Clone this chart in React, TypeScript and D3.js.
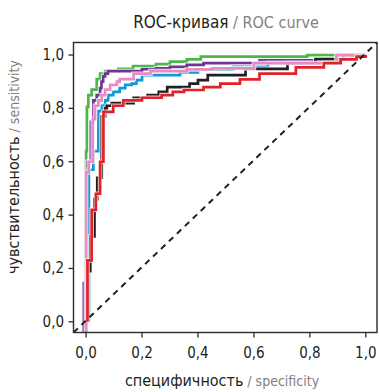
import React from "react";
import * as d3 from "d3";

const titleRu = "ROC-кривая";
const titleEn = "/ ROC curve";
const xTitleRu = "специфичность";
const xTitleEn = "/ specificity";
const yTitleRu = "чувствительность";
const yTitleEn = "/ sensitivity";
const ticks = [0, 0.2, 0.4, 0.6, 0.8, 1.0];

const seriesNames = ["green", "purple", "blue", "black", "pink", "red"];
const seriesColors = ["#4cb849", "#6e3796", "#0e9ad6", "#231f20", "#e58cc2", "#e3212b"];

const greenFpr = [0, 0, 0.003, 0.008, 0.02, 0.038, 0.05, 0.068, 0.115, 0.168, 0.25, 0.3, 0.36, 0.41, 0.79, 1.0];
const greenTpr = [-0.04, 0.64, 0.806, 0.85, 0.87, 0.91, 0.93, 0.94, 0.948, 0.959, 0.966, 0.975, 0.984, 0.994, 1.0, 1.0];

const purpleFpr = [-0.008, -0.008, 0.005, 0.017, 0.026, 0.038, 0.05, 0.055, 0.061, 0.068, 0.078, 0.2, 0.25, 0.3, 0.36, 0.42, 0.62, 0.9, 1.0];
const purpleTpr = [-0.04, 0.145, 0.6, 0.75, 0.83, 0.85, 0.876, 0.9, 0.92, 0.93, 0.94, 0.947, 0.95, 0.956, 0.963, 0.97, 0.98, 1.0, 1.0];

const blueFpr = [0.01, 0.01, 0.026, 0.044, 0.056, 0.068, 0.079, 0.097, 0.12, 0.14, 0.163, 0.18, 0.2, 0.336, 0.4, 0.525, 0.65, 0.85, 0.95, 1.0];
const blueTpr = [0.0, 0.57, 0.64, 0.79, 0.81, 0.83, 0.85, 0.862, 0.876, 0.888, 0.893, 0.906, 0.925, 0.935, 0.945, 0.956, 0.97, 0.985, 1.0, 1.0];

const blackFpr = [0.0, 0.0, 0.015, 0.03, 0.04, 0.056, 0.068, 0.074, 0.092, 0.17, 0.22, 0.26, 0.29, 0.37, 0.4, 0.435, 0.57, 0.72, 0.82, 0.92, 1.0];
const blackTpr = [-0.04, 0.19, 0.32, 0.46, 0.54, 0.77, 0.8, 0.81, 0.82, 0.84, 0.85, 0.862, 0.88, 0.893, 0.906, 0.925, 0.948, 0.97, 0.985, 1.0, 1.0];

const pinkFpr = [0, 0, 0.01, 0.024, 0.032, 0.044, 0.056, 0.068, 0.086, 0.11, 0.12, 0.17, 0.23, 0.36, 0.45, 0.6, 0.895, 1.0];
const pinkTpr = [-0.04, 0.56, 0.6, 0.76, 0.81, 0.83, 0.85, 0.87, 0.888, 0.9, 0.91, 0.93, 0.94, 0.946, 0.95, 0.97, 1.0, 1.0];

const redFpr = [0.005, 0.005, 0.02, 0.035, 0.05, 0.062, 0.097, 0.133, 0.2, 0.27, 0.31, 0.35, 0.42, 0.48, 0.55, 0.62, 0.75, 0.85, 0.91, 0.967, 1.0];
const redTpr = [0.0, 0.23, 0.42, 0.48, 0.6, 0.787, 0.81, 0.83, 0.84, 0.85, 0.862, 0.869, 0.88, 0.893, 0.909, 0.93, 0.954, 0.97, 0.984, 0.994, 1.0];

const seriesFpr = [greenFpr, purpleFpr, blueFpr, blackFpr, pinkFpr, redFpr];
const seriesTpr = [greenTpr, purpleTpr, blueTpr, blackTpr, pinkTpr, redTpr];

const W = 379;
const H = 392;
const FONT = "'DejaVu Sans Condensed', 'DejaVu Sans', sans-serif";

export default function App() {
  const left = 73.5, right = 377, top = 42.5, bottom = 332.5;
  const x = d3.scaleLinear().domain([-0.045, 1.04]).range([left, right]);
  const y = d3.scaleLinear().domain([-0.04, 1.047]).range([bottom, top]);
  const line = d3
    .line<[number, number]>()
    .x((d) => x(d[0]))
    .y((d) => y(d[1]))
    .curve(d3.curveStepAfter);

  const paths = seriesNames.map((name, i) => {
    const pts: [number, number][] = seriesFpr[i].map((f, j) => [f, seriesTpr[i][j]]);
    return { name, color: seriesColors[i], d: line(pts) || "" };
  });

  const [dx0, dx1] = x.domain();
  const [dy0, dy1] = y.domain();

  return (
    <svg width={W} height={H} style={{ position: "absolute", left: 0, top: 0, background: "#fff" }} fontFamily={FONT}>
      <rect x={0} y={0} width={W} height={H} fill="#fff" />
      <text x={226} y={28} textAnchor="middle" fontSize={17}>
        <tspan fill="#231f20">{titleRu}</tspan>
        <tspan fill="#808080" fontSize={16}>{" " + titleEn}</tspan>
      </text>

      {paths.map((p) => (
        <g key={p.name}>
          <path d={p.d} fill="none" stroke="#fff" strokeWidth={4.6} opacity={0.75} />
          <path d={p.d} fill="none" stroke={p.color} strokeWidth={2.7} />
        </g>
      ))}

      <line
        x1={x(dx0)}
        y1={y(dy0)}
        x2={x(dx1)}
        y2={y(dy1)}
        stroke="#231f20"
        strokeWidth={2}
        strokeDasharray="6 5"
      />

      <rect x={left} y={top} width={right - left} height={bottom - top} fill="none" stroke="#2b2b2b" strokeWidth={1.4} />

      {ticks.map((t) => (
        <g key={"x" + t}>
          <line x1={x(t)} x2={x(t)} y1={bottom} y2={bottom + 5} stroke="#2b2b2b" strokeWidth={1.3} />
          <text x={x(t)} y={358} textAnchor="middle" fontSize={15} fill="#231f20">
            {d3.format(".1f")(t).replace(".", ",")}
          </text>
        </g>
      ))}
      {ticks.map((t) => (
        <g key={"y" + t}>
          <line x1={left - 5} x2={left} y1={y(t)} y2={y(t)} stroke="#2b2b2b" strokeWidth={1.3} />
          <text x={64} y={y(t) + 5} textAnchor="end" fontSize={15} fill="#231f20">
            {d3.format(".1f")(t).replace(".", ",")}
          </text>
        </g>
      ))}

      <text x={222} y={386} textAnchor="middle" fontSize={16}>
        <tspan fill="#231f20">{xTitleRu}</tspan>
        <tspan fill="#808080" fontSize={14}>{" " + xTitleEn}</tspan>
      </text>
      <text transform={`translate(19, 167) rotate(-90)`} textAnchor="middle" fontSize={16}>
        <tspan fill="#231f20">{yTitleRu}</tspan>
        <tspan fill="#808080" fontSize={14}>{" " + yTitleEn}</tspan>
      </text>
    </svg>
  );
}
